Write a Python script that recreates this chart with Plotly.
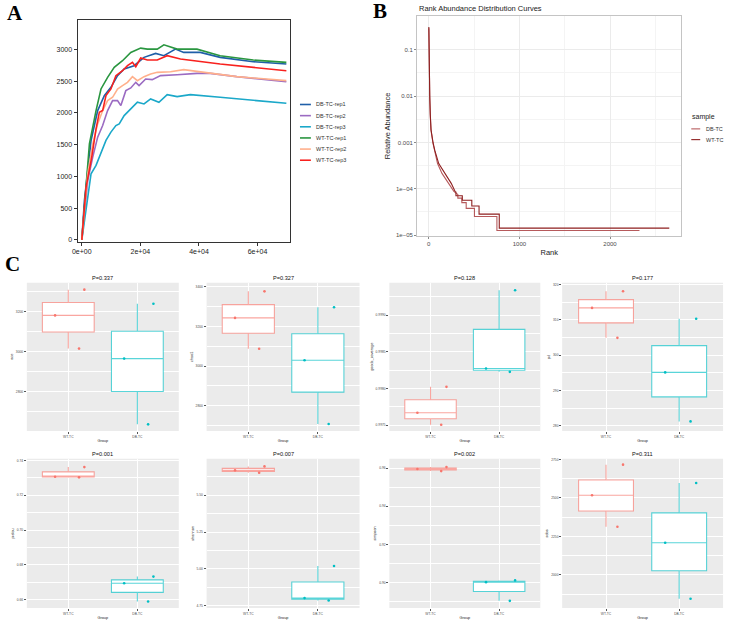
import plotly.graph_objects as go

W, H = 730, 623
FONT = 'Liberation Sans'

# ---------------- panel A: rarefaction curves ----------------
rare_names = ['DB-TC-rep1', 'DB-TC-rep2', 'DB-TC-rep3', 'WT-TC-rep1', 'WT-TC-rep2', 'WT-TC-rep3']
rare_colors = ['#1F5FA8', '#9B6BC2', '#1BA8C9', '#2A9640', '#FFB08C', '#F8211E']

db1_x = [0, 900, 3160, 5420, 7680, 9940, 12200, 14460, 17850, 21240, 25200, 28020, 31980, 34800, 40450, 47230, 58530, 69830]
db1_y = [0, 623, 1566, 2037, 2272, 2403, 2587, 2691, 2744, 2875, 2937, 2901, 3005, 2953, 2953, 2875, 2807, 2770]
db2_x = [0, 2030, 3730, 5420, 7120, 8810, 10510, 12200, 13330, 15030, 16720, 18420, 19550, 21800, 24060, 26890, 32540, 39320, 43840, 52880, 69830]
db2_y = [0, 937, 1304, 1618, 1801, 2037, 2194, 2194, 2115, 2351, 2393, 2482, 2430, 2534, 2524, 2587, 2602, 2623, 2623, 2571, 2492]
db3_x = [0, 1470, 3160, 4860, 6550, 8250, 9940, 11640, 12770, 14460, 16720, 18980, 21240, 23500, 26330, 29150, 32540, 37060, 47230, 58530, 69830]
db3_y = [0, 518, 1042, 1173, 1356, 1566, 1697, 1801, 1827, 1958, 2063, 2168, 2141, 2220, 2168, 2288, 2257, 2288, 2246, 2204, 2152]
wt1_x = [0, 2600, 4860, 6550, 8810, 11070, 13900, 16720, 20100, 22370, 25760, 28020, 32540, 39320, 47230, 58530, 69830]
wt1_y = [0, 1513, 2037, 2377, 2560, 2717, 2822, 2953, 3021, 3005, 3005, 3073, 3005, 3005, 2901, 2833, 2796]
wt2_x = [0, 2030, 3730, 5420, 7120, 8810, 10510, 12200, 13900, 15590, 17290, 18980, 21240, 23500, 25760, 30280, 34800, 41580, 52880, 69830]
wt2_y = [0, 1042, 1513, 1827, 2037, 2194, 2246, 2377, 2430, 2482, 2571, 2508, 2571, 2613, 2639, 2649, 2681, 2639, 2571, 2508]
wt3_x = [0, 1470, 3390, 4860, 5990, 7120, 8250, 9940, 11640, 13900, 15590, 17290, 18420, 20110, 22370, 25760, 29150, 33670, 47230, 58530, 69830]
wt3_y = [0, 833, 1304, 1749, 2011, 2037, 2272, 2377, 2587, 2665, 2744, 2796, 2728, 2864, 2833, 2833, 2901, 2848, 2770, 2717, 2665]

rare_x = [db1_x, db2_x, db3_x, wt1_x, wt2_x, wt3_x]
rare_y = [db1_y, db2_y, db3_y, wt1_y, wt2_y, wt3_y]
rare_ticks = [0, 20000, 40000, 60000]
rare_ticktext = ['0e+00', '2e+04', '4e+04', '6e+04']

# ---------------- panel B: rank abundance ----------------
rank_names = ['DB-TC', 'WT-TC']
rank_colors = ['#B65A5C', '#8E1F1F']
db_rank = [1, 2, 3, 5, 8, 11, 17, 25, 47, 64, 97, 146, 219, 277, 321, 321, 365, 365, 413, 413, 504, 504, 752, 752, 2325]
db_abund = [0.29, 0.11, 0.055, 0.028, 0.015, 0.009, 0.0037, 0.0018, 9.5e-4, 6.8e-4, 3.5e-4, 2.15e-4, 1.31e-4, 8.8e-5,
            7.56e-5, 6.3e-5, 6.3e-5, 5.04e-5, 5.04e-5, 3.78e-5, 3.78e-5, 2.52e-5, 2.52e-5, 1.26e-5, 1.26e-5]
wt_rank = [1, 2, 3, 5, 8, 11, 17, 25, 47, 66, 110, 175, 248, 292, 300, 300, 370, 370, 475, 475, 555, 555, 778, 778, 2654]
wt_abund = [0.31, 0.12, 0.06, 0.03, 0.016, 0.01, 0.004, 0.0019, 0.001, 6.8e-4, 3.5e-4, 2.15e-4, 1.31e-4, 8.7e-5,
            8.52e-5, 7.1e-5, 7.1e-5, 5.68e-5, 5.68e-5, 4.26e-5, 4.26e-5, 2.84e-5, 2.84e-5, 1.42e-5, 1.42e-5]
rank_x = [db_rank, wt_rank]
rank_y = [db_abund, wt_abund]
abund_ticks = [0.1, 0.01, 0.001, 1e-4, 1e-5]
abund_ticktext = ['0.1', '0.01', '0.001', '1e\u221204', '1e\u221205']

# ---------------- panel C: alpha diversity boxes ----------------
groups = ['WT-TC', 'DB-TC']
group_colors = ['#F8766D', '#00BFC4']
metrics = ['ace', 'chao1', 'goods_coverage', 'pd', 'pielou', 'shannon', 'simpson', 'sobs']
p_titles = ['P=0.337', 'P=0.327', 'P=0.128', 'P=0.177', 'P=0.001', 'P=0.007', 'P=0.002', 'P=0.311']

ace_wt = [3311, 3182, 3016]
ace_db = [3240, 2966, 2637]
chao1_wt = [3378, 3244, 3088]
chao1_db = [3298, 3030, 2708]
goods_wt = [0.998024, 0.997672, 0.997509]
goods_db = [0.999339, 0.998273, 0.998228]
pd_wt = [318.1, 313.4, 304.9]
pd_db = [310.3, 295.1, 281.2]
pielou_wt = [0.7362, 0.7307, 0.7303]
pielou_db = [0.6732, 0.6694, 0.6589]
shannon_wt = [5.696, 5.669, 5.653]
shannon_db = [5.020, 4.802, 4.786]
simpson_wt = [0.9605, 0.9595, 0.9584]
simpson_db = [0.9011, 0.9002, 0.8904]
sobs_wt = [2716, 2517, 2313]
sobs_db = [2597, 2209, 1845]

wt_all = [ace_wt, chao1_wt, goods_wt, pd_wt, pielou_wt, shannon_wt, simpson_wt, sobs_wt]
db_all = [ace_db, chao1_db, goods_db, pd_db, pielou_db, shannon_db, simpson_db, sobs_db]

# axis settings for each box panel: (tick0, dtick, range, tickformat)
box_axes = [
    (2800, 200, [2604, 3346], ''),
    (2800, 200, [2673, 3422], ''),
    (0.9975, 0.0005, [0.997424, 0.999443], '.4f'),
    (280, 10, [278.5, 320.56], ''),
    (0.66, 0.02, [0.6551, 0.7410], '.2f'),
    (4.75, 0.25, [4.7343, 5.7477], '.2f'),
    (0.90, 0.02, [0.88661, 0.96487], '.2f'),
    (2000, 250, [1785, 2754], ''),
]


def px_x(p):
    return p / W


def px_y(p):
    return 1 - p / H


def fade(c, a):
    r, g, b = int(c[1:3], 16), int(c[3:5], 16), int(c[5:7], 16)
    return 'rgba(%d,%d,%d,%s)' % (r, g, b, a)


fig = go.Figure()
annotations = []
shapes = []

# panel A traces
for name, color, xs, ys in zip(rare_names, rare_colors, rare_x, rare_y):
    fig.add_trace(go.Scatter(x=xs, y=ys, mode='lines', name=name, showlegend=False,
                             line=dict(color=color, width=1.6), xaxis='x', yaxis='y'))

# panel A legend (drawn by hand, plotly legend rows are too tall)
for i, (name, color) in enumerate(zip(rare_names, rare_colors)):
    yy = px_y(104 + i * 11.2)
    shapes.append(dict(type='line', xref='paper', yref='paper', x0=px_x(297), x1=px_x(308),
                       y0=yy, y1=yy, line=dict(color=color, width=1.6)))
    annotations.append(dict(text=name, xref='paper', yref='paper', x=px_x(311), y=yy,
                            xanchor='left', yanchor='middle', showarrow=False,
                            font=dict(size=5.5, color='#333333')))

# panel B traces
for name, color, xs, ys in zip(rank_names, rank_colors, rank_x, rank_y):
    fig.add_trace(go.Scatter(x=xs, y=ys, mode='lines', name=name, showlegend=False,
                             line=dict(color=color, width=1.1), xaxis='x2', yaxis='y2'))

annotations.append(dict(text='sample', xref='paper', yref='paper', x=px_x(690), y=px_y(117),
                        xanchor='left', yanchor='middle', showarrow=False,
                        font=dict(size=7, color='#222222')))
for i, (name, color) in enumerate(zip(rank_names, rank_colors)):
    yy = px_y(128.5 + i * 10.8)
    shapes.append(dict(type='line', xref='paper', yref='paper', x0=px_x(691), x1=px_x(700),
                       y0=yy, y1=yy, line=dict(color=color, width=1.1)))
    annotations.append(dict(text=name, xref='paper', yref='paper', x=px_x(704), y=yy,
                            xanchor='left', yanchor='middle', showarrow=False,
                            font=dict(size=5.5, color='#333333')))

annotations.append(dict(text='Rank Abundance Distribution Curves', xref='paper', yref='paper',
                        x=px_x(415), y=px_y(7.5), xanchor='left', yanchor='middle', showarrow=False,
                        font=dict(size=7.5, color='#222222')))

# panel C boxes
cols_x = [(22, 175), (203, 357), (387, 539), (561, 723)]
rows_y = [(283, 432), (460, 610)]

layout_axes = {}
for k, metric in enumerate(metrics):
    n = k + 3
    xa, ya = 'x%d' % n, 'y%d' % n
    c0, c1 = cols_x[k % 4]
    r0, r1 = rows_y[k // 4]
    for grp, color, vals in zip(groups, group_colors, [wt_all[k], db_all[k]]):
        fig.add_trace(go.Box(
            x=[grp] * len(vals), y=vals, name=grp, showlegend=False,
            quartilemethod='inclusive', boxpoints='all', jitter=0.8, pointpos=0,
            width=0.75, whiskerwidth=0, fillcolor='white',
            line=dict(color=fade(color, 0.65), width=1.1),
            marker=dict(color=color, size=2.6),
            xaxis=xa, yaxis=ya))
    tick0, dtick, yr, fmt = box_axes[k]
    layout_axes['xaxis%d' % n] = dict(
        domain=[px_x(c0), px_x(c1)], anchor=ya, type='category',
        categoryorder='array', categoryarray=groups, range=[-0.6, 1.6],
        showgrid=True, gridcolor='white', gridwidth=0.8, zeroline=False,
        ticks='outside', ticklen=2, tickcolor='#555555', tickwidth=0.5,
        tickfont=dict(size=3.3, color='#4D4D4D'),
        title=dict(text='Group', font=dict(size=3.8, color='#222222'), standoff=1))
    layout_axes['yaxis%d' % n] = dict(
        domain=[px_y(r1), px_y(r0)], anchor=xa, range=yr, tick0=tick0, dtick=dtick,
        tickformat=fmt, showgrid=True, gridcolor='white', gridwidth=0.8, zeroline=False,
        minor=dict(showgrid=True, gridcolor='white', gridwidth=0.4, tick0=tick0, dtick=dtick / 2),
        ticks='outside', ticklen=2, tickcolor='#555555', tickwidth=0.5,
        tickfont=dict(size=3.3, color='#4D4D4D'),
        title=dict(text=metric, font=dict(size=3.8, color='#222222'), standoff=2))
    shapes.append(dict(type='rect', xref='%s domain' % xa, yref='%s domain' % ya,
                       x0=0, x1=1, y0=0, y1=1, fillcolor='#EBEBEB', line_width=0, layer='below'))
    annotations.append(dict(text=p_titles[k], xref='%s domain' % xa, yref='%s domain' % ya,
                            x=0.5, y=1.0, xanchor='center', yanchor='bottom', showarrow=False,
                            font=dict(size=5.6, color='#111111')))

# panel letters
for letter, (lx, ly) in zip(['A', 'B', 'C'], [(10, 12), (378, 10), (8, 264)]):
    annotations.append(dict(text='<b>%s</b>' % letter, xref='paper', yref='paper',
                            x=px_x(lx), y=px_y(ly), xanchor='center', yanchor='middle',
                            showarrow=False,
                            font=dict(family='Liberation Serif', size=21, color='black')))

fig.update_layout(
    width=W, height=H,
    margin=dict(l=0, r=0, t=0, b=0),
    paper_bgcolor='white', plot_bgcolor='white',
    font=dict(family=FONT, color='#222222'),
    showlegend=False,
    xaxis=dict(domain=[px_x(73), px_x(287)], anchor='y', range=[-1470, 71085],
               tickvals=rare_ticks, ticktext=rare_ticktext, showgrid=False, zeroline=False,
               showline=True, mirror=True, linecolor='#333333', linewidth=1,
               ticks='outside', ticklen=3, tickcolor='#333333',
               tickfont=dict(size=7, color='#222222')),
    yaxis=dict(domain=[px_y(242), px_y(19)], anchor='x', range=[-31, 3465], dtick=500,
               showgrid=False, zeroline=False, showline=True, mirror=True,
               linecolor='#333333', linewidth=1, ticks='outside', ticklen=3, tickcolor='#333333',
               tickfont=dict(size=7, color='#222222')),
    xaxis2=dict(domain=[px_x(415), px_x(681)], anchor='y2', range=[-128, 2787], dtick=1000,
                showgrid=True, gridcolor='#EBEBEB', gridwidth=1, zeroline=False,
                minor=dict(showgrid=True, gridcolor='#F4F4F4', gridwidth=0.6, dtick=500),
                showline=True, mirror=True, linecolor='#C4C4C4', linewidth=1.2,
                ticks='outside', ticklen=2, tickcolor='#888888',
                tickfont=dict(size=6, color='#4D4D4D'),
                title=dict(text='Rank', font=dict(size=7.5, color='#222222'), standoff=3)),
    yaxis2=dict(domain=[px_y(236), px_y(15)], anchor='x2', type='log', range=[-5.015, -0.27],
                tickvals=abund_ticks, ticktext=abund_ticktext,
                showgrid=True, gridcolor='#EBEBEB', gridwidth=1, zeroline=False,
                minor=dict(showgrid=True, gridcolor='#F4F4F4', gridwidth=0.6,
                           tickvals=[10 ** -1.5, 10 ** -2.5, 10 ** -3.5, 10 ** -4.5]),
                showline=True, mirror=True, linecolor='#C4C4C4', linewidth=1.2,
                ticks='outside', ticklen=2, tickcolor='#888888',
                tickfont=dict(size=6, color='#4D4D4D'),
                title=dict(text='Relative Abundance', font=dict(size=7.5, color='#222222'), standoff=4)),
    annotations=annotations,
    shapes=shapes,
    **layout_axes,
)

# the page body has a default 8px margin; drop it so the figure sits at the window corner
fig.write_html('out.html', config={'displayModeBar': False},
               post_script="document.body.style.margin='0px';")
